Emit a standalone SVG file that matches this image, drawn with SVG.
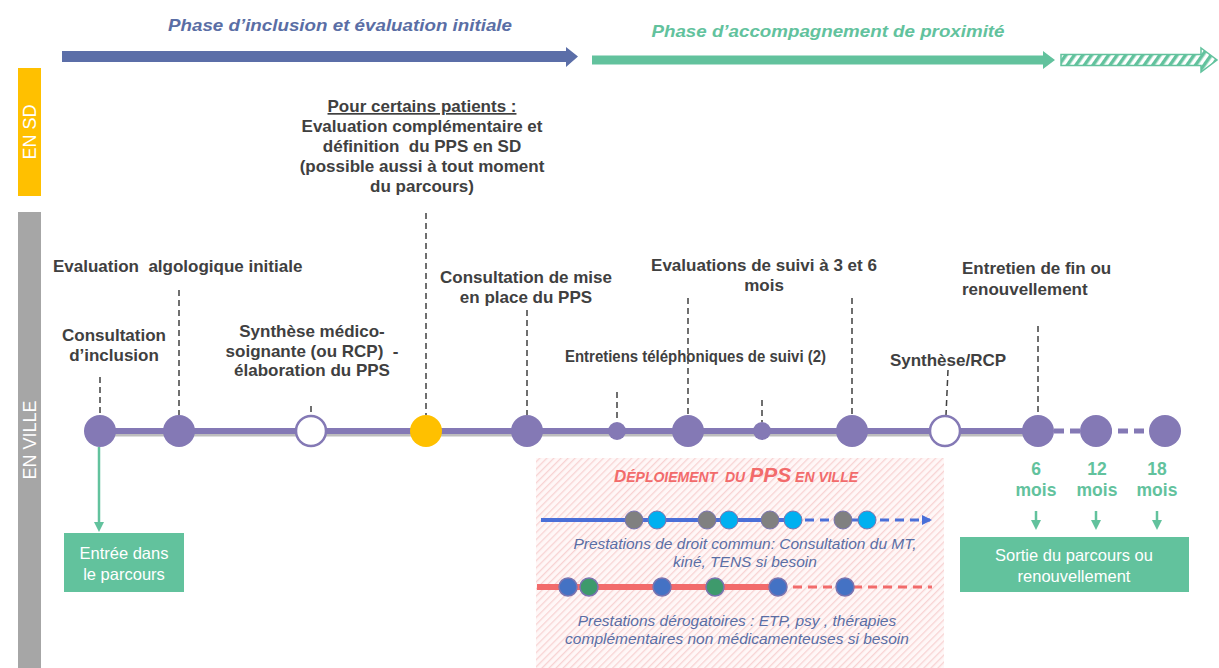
<svg xmlns="http://www.w3.org/2000/svg" width="1219" height="668" viewBox="0 0 1219 668">
<style>
.lbl{font-family:"Liberation Sans",Arial,sans-serif;font-weight:bold;font-size:17px;fill:#404040}
.mid{text-anchor:middle}
.dash{stroke:#404040;stroke-width:1.5;stroke-dasharray:6 4;fill:none}
.pn{fill:#8479b5}
.wn{fill:#ffffff;stroke:#8479b5;stroke-width:2.5}
.it{font-family:"Liberation Sans",Arial,sans-serif;font-style:italic;font-size:15.5px;fill:#5a6ea5;text-anchor:middle}
.wt{font-family:"Liberation Sans",Arial,sans-serif;font-size:16.5px;fill:#ffffff;text-anchor:middle}
.gt{font-family:"Liberation Sans",Arial,sans-serif;font-weight:bold;font-size:17.5px;fill:#62c29d;text-anchor:middle}
.gline{stroke:#62c29d;stroke-width:2.5;fill:none}
.bar{font-family:"Liberation Sans",Arial,sans-serif;font-size:18px;fill:#ffffff;text-anchor:middle}
</style>
<defs>
<pattern id="hatchG" patternUnits="userSpaceOnUse" width="7" height="7" patternTransform="rotate(35)">
<rect width="7" height="7" fill="#ffffff"/>
<rect width="3.5" height="7" fill="#62c29d"/>
</pattern>
<pattern id="hatchP" patternUnits="userSpaceOnUse" width="5" height="5" patternTransform="rotate(45)">
<rect width="5" height="5" fill="#fff7f7"/>
<rect width="1.3" height="5" fill="#f8d3d3"/>
</pattern>
<marker id="gArrow" markerWidth="10" markerHeight="10" refX="5" refY="5" orient="auto" markerUnits="userSpaceOnUse">
<path d="M0,0 L10,5 L0,10 Z" fill="#62c29d"/>
</marker>
<marker id="bArrow" markerWidth="10" markerHeight="10" refX="8" refY="5" orient="auto" markerUnits="userSpaceOnUse">
<path d="M0,0 L10,5 L0,10 Z" fill="#4a6fd8"/>
</marker>
</defs>
<rect width="1219" height="668" fill="#ffffff"/>

<!-- phase arrows -->
<g id="phase1">
<text x="340" y="31" font-family="Liberation Sans, Arial, sans-serif" font-weight="bold" font-style="italic" font-size="17" fill="#5a6ea5" text-anchor="middle" textLength="344" lengthAdjust="spacingAndGlyphs">Phase d’inclusion et évaluation initiale</text>
<path d="M62,51 H566 V47 L578,56.5 L566,67 V62 H62 Z" fill="#5b6ea8"/>
</g>
<g id="phase2">
<text x="828" y="37" font-family="Liberation Sans, Arial, sans-serif" font-weight="bold" font-style="italic" font-size="17" fill="#62c29d" text-anchor="middle" textLength="353" lengthAdjust="spacingAndGlyphs">Phase d’accompagnement de proximité</text>
<path d="M592,55.5 H1043 V51 L1055,60 L1043,69 V64.5 H592 Z" fill="#62c29d"/>
</g>
<g id="phase3">
<path d="M1061,54.5 H1201 V48 L1217,60 L1201,72 V65.5 H1061 Z" fill="url(#hatchG)" stroke="#62c29d" stroke-width="1.5"/>
</g>

<!-- left bars -->
<g id="bar-sd">
<rect x="18" y="68" width="23" height="128" fill="#ffc000"/>
<text class="bar" transform="translate(36,132) rotate(-90)">EN SD</text>
</g>
<g id="bar-ville">
<rect x="18" y="212" width="23" height="456" fill="#a6a6a6"/>
<text class="bar" transform="translate(36,440) rotate(-90)">EN VILLE</text>
</g>

<!-- deployment area -->
<g id="deploiement">
<rect x="536" y="458" width="408" height="210" fill="url(#hatchP)"/>
<text x="736" y="482" font-family="Liberation Sans, Arial, sans-serif" font-weight="bold" font-style="italic" fill="#f26b6b" text-anchor="middle" xml:space="preserve"><tspan font-size="17">D</tspan><tspan font-size="14">ÉPLOIEMENT  DU </tspan><tspan font-size="21">PPS</tspan><tspan font-size="14"> EN VILLE</tspan></text>
<line x1="541" y1="520" x2="790" y2="520" stroke="#4a6fd8" stroke-width="4"/>
<line x1="790" y1="520" x2="930" y2="520" stroke="#4a6fd8" stroke-width="3" stroke-dasharray="9 6" marker-end="url(#bArrow)"/>
<g stroke="#7a74b0" stroke-width="1">
<circle cx="634" cy="520" r="9" fill="#808080"/>
<circle cx="657" cy="520" r="9" fill="#00b0f0"/>
<circle cx="707" cy="520" r="9" fill="#808080"/>
<circle cx="729" cy="520" r="9" fill="#00b0f0"/>
<circle cx="770" cy="520" r="9" fill="#808080"/>
<circle cx="793" cy="520" r="9" fill="#00b0f0"/>
<circle cx="843" cy="520" r="9" fill="#808080"/>
<circle cx="867" cy="520" r="9" fill="#00b0f0"/>
</g>
<text class="it" x="745" y="549">Prestations de droit commun: Consultation du MT,</text>
<text class="it" x="745" y="567">kiné, TENS si besoin</text>
<line x1="537" y1="587" x2="778" y2="587" stroke="#f26b6b" stroke-width="6"/>
<line x1="778" y1="587" x2="932" y2="587" stroke="#f26b6b" stroke-width="3" stroke-dasharray="9 6"/>
<g stroke="#7a74b0" stroke-width="1.5">
<circle cx="568" cy="587" r="9" fill="#4472c4"/>
<circle cx="589" cy="587" r="9" fill="#3e9a6c"/>
<circle cx="662" cy="587" r="9" fill="#4472c4"/>
<circle cx="715" cy="587" r="9" fill="#3e9a6c"/>
<circle cx="778" cy="587" r="9" fill="#4472c4"/>
<circle cx="845" cy="587" r="9" fill="#4472c4"/>
</g>
<text class="it" x="737" y="626">Prestations dérogatoires : ETP, psy , thérapies</text>
<text class="it" x="737" y="644">complémentaires non médicamenteuses si besoin</text>
</g>

<!-- connectors -->
<g id="connectors">
<line x1="100" y1="434" x2="1038" y2="434" stroke="#bdbdbd" stroke-width="5"/>
<line x1="100" y1="431" x2="1038" y2="431" stroke="#8479b5" stroke-width="6"/>
<line x1="1038" y1="431" x2="1165" y2="431" stroke="#8479b5" stroke-width="5" stroke-dasharray="10 6"/>
<line class="dash" x1="100" y1="377" x2="100" y2="415"/>
<line class="dash" x1="179" y1="290" x2="179" y2="415"/>
<line class="dash" x1="311" y1="406" x2="311" y2="413"/>
<line class="dash" x1="426" y1="213" x2="426" y2="415"/>
<line class="dash" x1="527" y1="310" x2="527" y2="415"/>
<line class="dash" x1="617" y1="392" x2="617" y2="422"/>
<line class="dash" x1="688" y1="298" x2="688" y2="415"/>
<line class="dash" x1="762" y1="400" x2="762" y2="422"/>
<line class="dash" x1="852" y1="298" x2="852" y2="415"/>
<line class="dash" x1="948" y1="370" x2="946" y2="415"/>
<line class="dash" x1="1038" y1="326" x2="1038" y2="415"/>
<line class="gline" x1="99" y1="447" x2="99" y2="527" marker-end="url(#gArrow)"/>
<line class="gline" x1="1036" y1="511" x2="1036" y2="525" marker-end="url(#gArrow)"/>
<line class="gline" x1="1096" y1="511" x2="1096" y2="525" marker-end="url(#gArrow)"/>
<line class="gline" x1="1157" y1="511" x2="1157" y2="525" marker-end="url(#gArrow)"/>
</g>

<!-- timeline nodes -->
<g id="n-inclusion">
<circle class="pn" cx="100" cy="431" r="16"/>
<text class="lbl mid" x="114" y="341">Consultation</text>
<text class="lbl mid" x="114" y="361">d’inclusion</text>
</g>
<g id="n-evaluation">
<circle class="pn" cx="179" cy="431" r="16"/>
<text class="lbl" x="53" y="272" xml:space="preserve">Evaluation  algologique initiale</text>
</g>
<g id="n-synthese">
<circle class="wn" cx="311" cy="431" r="15"/>
<text class="lbl mid" x="312" y="337">Synthèse médico-</text>
<text class="lbl mid" x="312" y="357" xml:space="preserve">soignante (ou RCP)  -</text>
<text class="lbl mid" x="312" y="376">élaboration du PPS</text>
</g>
<g id="n-sd">
<circle cx="426" cy="431" r="16" fill="#ffc000"/>
<text class="lbl mid" x="422" y="112" text-decoration="underline">Pour certains patients :</text>
<text class="lbl mid" x="422" y="132">Evaluation complémentaire et</text>
<text class="lbl mid" x="422" y="152" xml:space="preserve">définition  du PPS en SD</text>
<text class="lbl mid" x="422" y="172">(possible aussi à tout moment</text>
<text class="lbl mid" x="422" y="192">du parcours)</text>
</g>
<g id="n-miseenplace">
<circle class="pn" cx="527" cy="431" r="16"/>
<text class="lbl mid" x="526" y="283">Consultation de mise</text>
<text class="lbl mid" x="526" y="303">en place du PPS</text>
</g>
<g id="n-tel1">
<circle class="pn" cx="617" cy="431" r="9"/>
<text class="lbl" x="565" y="362" font-size="16.5" textLength="261" lengthAdjust="spacingAndGlyphs">Entretiens téléphoniques de suivi (2)</text>
</g>
<g id="n-eval3">
<circle class="pn" cx="688" cy="431" r="16"/>
<text class="lbl mid" x="764" y="271">Evaluations de suivi à 3 et 6</text>
<text class="lbl mid" x="764" y="291">mois</text>
</g>
<g id="n-tel2">
<circle class="pn" cx="762" cy="431" r="9"/>
</g>
<g id="n-eval6">
<circle class="pn" cx="852" cy="431" r="16"/>
</g>
<g id="n-rcp">
<circle class="wn" cx="945" cy="431" r="15"/>
<text class="lbl mid" x="948" y="366">Synthèse/RCP</text>
</g>
<g id="n-fin">
<circle class="pn" cx="1038" cy="431" r="16"/>
<text class="lbl" x="962" y="274">Entretien de fin ou</text>
<text class="lbl" x="962" y="295">renouvellement</text>
<text class="gt" x="1036" y="475">6</text>
<text class="gt" x="1036" y="496">mois</text>
</g>
<g id="n-12">
<circle class="pn" cx="1096" cy="431" r="16"/>
<text class="gt" x="1097" y="475">12</text>
<text class="gt" x="1097" y="496">mois</text>
</g>
<g id="n-18">
<circle class="pn" cx="1165" cy="431" r="16"/>
<text class="gt" x="1157" y="475">18</text>
<text class="gt" x="1157" y="496">mois</text>
</g>

<!-- boxes -->
<g id="box-entree">
<rect x="64" y="533" width="120" height="59" fill="#62c29d"/>
<text class="wt" x="124" y="559">Entrée dans</text>
<text class="wt" x="124" y="580">le parcours</text>
</g>
<g id="box-sortie">
<rect x="960" y="537" width="229" height="55" fill="#62c29d"/>
<text class="wt" x="1074" y="561" font-size="17">Sortie du parcours ou</text>
<text class="wt" x="1074" y="582" font-size="17">renouvellement</text>
</g>
</svg>
